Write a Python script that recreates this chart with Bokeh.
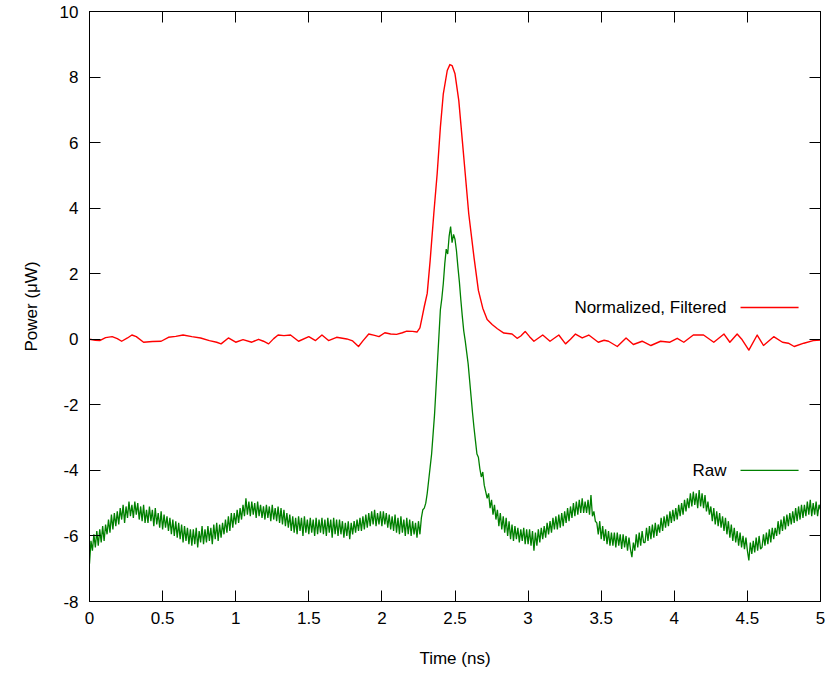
import numpy as np
from bokeh.plotting import figure
from bokeh.models import LinearAxis, Range1d, FixedTicker, Label, Arrow, ColumnDataSource
from bokeh.embed import file_html
from bokeh.resources import INLINE

# ---------------- data ----------------
x_ticks = [0, 0.5, 1, 1.5, 2, 2.5, 3, 3.5, 4, 4.5, 5]
y_ticks = [-8, -6, -4, -2, 0, 2, 4, 6, 8, 10]
y_tick_labels = ["-8", "-6", "-4", "-2", "0", "2", "4", "6", "8", "10"]

filtered_name = "Normalized, Filtered"
raw_name = "Raw"

# Normalized, filtered trace (time in ns, power in uW)
filtered_time = [
    0.00, 0.04, 0.07, 0.11, 0.155, 0.19, 0.22, 0.26, 0.29, 0.32, 0.37, 0.43, 0.49, 0.54,
    0.59, 0.64, 0.70, 0.76, 0.82, 0.87, 0.90, 0.95, 1.00, 1.05, 1.11, 1.156, 1.19, 1.225,
    1.26, 1.29, 1.33, 1.375, 1.43, 1.50, 1.546, 1.59, 1.635, 1.69, 1.76, 1.80, 1.84, 1.87,
    1.91, 1.95, 1.98, 2.02, 2.06, 2.10, 2.14, 2.17, 2.21, 2.24, 2.26, 2.275, 2.29, 2.31,
    2.33, 2.355, 2.378, 2.40, 2.42, 2.447, 2.465, 2.48, 2.50, 2.526, 2.55, 2.57, 2.594,
    2.63, 2.66, 2.69, 2.72, 2.754, 2.79, 2.834, 2.89, 2.925, 2.95, 2.98, 3.01, 3.04, 3.10,
    3.15, 3.21, 3.256, 3.29, 3.324, 3.37, 3.415, 3.48, 3.52, 3.55, 3.61, 3.67, 3.72, 3.78,
    3.84, 3.906, 3.97, 4.02, 4.065, 4.13, 4.20, 4.27, 4.34, 4.38, 4.43, 4.46, 4.51, 4.567,
    4.61, 4.68, 4.74, 4.78, 4.82, 4.886, 4.95, 5.00,
]
filtered_power = [
    0.00, -0.03, -0.04, 0.05, 0.08, 0.02, -0.06, 0.04, 0.13, 0.08, -0.09, -0.07, -0.06, 0.06,
    0.09, 0.13, 0.08, 0.04, -0.04, -0.09, -0.14, 0.04, -0.09, -0.01, -0.09, 0.00, -0.06, -0.14,
    0.02, 0.13, 0.11, 0.13, -0.06, 0.08, -0.04, 0.13, -0.04, 0.06, 0.01, -0.05, -0.22, -0.05,
    0.16, 0.12, 0.08, 0.20, 0.16, 0.15, 0.20, 0.25, 0.24, 0.22, 0.35, 0.67, 1.00, 1.40,
    2.40, 3.83, 5.05, 6.47, 7.49, 8.20, 8.38, 8.35, 8.10, 7.28, 6.07, 5.05, 3.83,
    2.50, 1.49, 0.95, 0.60, 0.45, 0.32, 0.19, 0.16, 0.03, 0.10, 0.24, 0.08, -0.06, 0.13,
    -0.06, 0.13, -0.14, 0.00, 0.16, 0.04, 0.13, -0.09, -0.03, -0.06, -0.22, 0.04, -0.16, -0.06,
    -0.19, -0.06, -0.09, 0.03, -0.09, 0.13, 0.13, -0.09, 0.16, -0.09, 0.16, 0.01, -0.33, 0.13,
    -0.19, 0.08, -0.09, -0.12, -0.22, -0.12, -0.04, -0.02,
]

# Raw trace, sampled every 0.01 ns from 0 to 5 ns (one row = 0.1 ns)
raw_step_ns = 0.01
raw_power = [
    -6.85, -6.15, -6.45, -5.95, -6.35, -5.85, -6.30, -5.80, -6.20, -5.70,
    -6.15, -5.65, -5.95, -5.50, -5.90, -5.35, -5.80, -5.30, -5.70, -5.25,
    -5.65, -5.15, -5.50, -5.05, -5.60, -5.10, -5.45, -4.95, -5.40, -5.05,
    -5.45, -4.95, -5.35, -5.00, -5.50, -5.10, -5.55, -5.05, -5.60, -5.20,
    -5.60, -5.10, -5.55, -5.20, -5.70, -5.15, -5.65, -5.30, -5.75, -5.25,
    -5.80, -5.35, -5.75, -5.40, -5.85, -5.45, -5.95, -5.50, -6.00, -5.55,
    -6.05, -5.60, -6.10, -5.65, -6.20, -5.70, -6.15, -5.75, -6.25, -5.80,
    -6.30, -5.80, -6.25, -5.75, -6.35, -5.85, -6.20, -5.70, -6.25, -5.80,
    -6.20, -5.70, -6.15, -5.75, -6.25, -5.65, -6.10, -5.60, -6.15, -5.65,
    -6.05, -5.60, -5.95, -5.50, -5.90, -5.40, -5.85, -5.30, -5.75, -5.30,
    -5.65, -5.20, -5.60, -5.15, -5.50, -5.05, -5.40, -4.85, -5.35, -4.95,
    -5.40, -4.95, -5.35, -5.00, -5.45, -4.95, -5.40, -5.05, -5.45, -5.10,
    -5.50, -5.05, -5.45, -5.10, -5.55, -5.05, -5.50, -5.15, -5.55, -5.10,
    -5.60, -5.15, -5.65, -5.20, -5.70, -5.30, -5.75, -5.35, -5.85, -5.40,
    -5.90, -5.45, -5.95, -5.40, -5.85, -5.45, -6.00, -5.40, -5.90, -5.50,
    -5.95, -5.45, -5.90, -5.50, -6.00, -5.45, -5.95, -5.50, -5.90, -5.45,
    -5.95, -5.50, -6.00, -5.45, -5.90, -5.50, -6.05, -5.45, -5.95, -5.50,
    -6.00, -5.50, -5.95, -5.55, -6.05, -5.60, -6.00, -5.55, -6.10, -5.60,
    -5.95, -5.55, -5.90, -5.50, -5.85, -5.45, -5.85, -5.40, -5.80, -5.35,
    -5.75, -5.30, -5.70, -5.25, -5.65, -5.20, -5.70, -5.30, -5.65, -5.25,
    -5.70, -5.25, -5.65, -5.30, -5.75, -5.35, -5.80, -5.40, -5.85, -5.35,
    -5.90, -5.45, -5.95, -5.40, -5.90, -5.50, -6.00, -5.45, -5.95, -5.50,
    -6.00, -5.55, -5.95, -5.60, -6.05, -5.55, -5.95, -5.45, -5.20, -5.15,
    -5.00, -4.70, -4.30, -3.90, -3.50, -2.90, -2.30, -1.50, -0.70, 0.10,
    0.90, 1.25, 1.70, 2.30, 2.75, 2.60, 3.15, 3.44, 2.95, 3.20,
    3.05, 2.70, 2.20, 1.75, 1.20, 0.70, 0.25, -0.05, -0.40, -0.75,
    -1.25, -1.75, -2.25, -2.70, -3.10, -3.50, -3.60, -3.95, -4.20, -4.05,
    -4.45, -4.65, -4.85, -4.70, -5.15, -4.90, -5.35, -5.05, -5.50, -5.20,
    -5.70, -5.30, -5.80, -5.40, -5.90, -5.45, -6.00, -5.55, -6.10, -5.65,
    -6.15, -5.70, -6.10, -5.75, -6.20, -5.80, -6.15, -5.75, -6.25, -5.80,
    -6.25, -5.80, -6.30, -5.85, -6.45, -5.90, -6.30, -5.80, -6.20, -5.75,
    -6.10, -5.70, -6.05, -5.60, -5.95, -5.55, -5.90, -5.45, -5.80, -5.40,
    -5.80, -5.35, -5.75, -5.30, -5.70, -5.25, -5.60, -5.15, -5.55, -5.10,
    -5.45, -5.00, -5.40, -4.95, -5.35, -4.90, -5.30, -4.85, -5.30, -4.95,
    -5.30, -4.90, -5.35, -4.75, -5.40, -5.25, -5.55, -5.60, -5.95, -5.55,
    -6.10, -5.70, -6.15, -5.80, -6.25, -5.85, -6.30, -5.90, -6.30, -5.90,
    -6.35, -5.90, -6.30, -5.95, -6.40, -5.95, -6.35, -6.00, -6.45, -6.05,
    -6.40, -6.65, -6.20, -6.45, -5.95, -6.35, -5.90, -6.30, -5.85, -6.20,
    -6.20, -5.75, -6.15, -5.70, -6.10, -5.65, -6.05, -5.60, -6.00, -5.65,
    -5.90, -5.45, -5.85, -5.40, -5.75, -5.35, -5.70, -5.25, -5.60, -5.20,
    -5.55, -5.15, -5.50, -5.05, -5.40, -5.00, -5.35, -4.90, -5.25, -4.85,
    -5.15, -4.70, -5.10, -4.65, -5.05, -4.70, -5.15, -4.60, -5.10, -4.70,
    -5.15, -4.75, -5.25, -4.95, -5.35, -5.10, -5.55, -5.15, -5.65, -5.25,
    -5.70, -5.30, -5.75, -5.40, -5.85, -5.45, -5.95, -5.55, -6.05, -5.65,
    -6.15, -5.75, -6.20, -5.85, -6.30, -5.90, -6.35, -6.00, -6.40, -6.05,
    -6.45, -6.75, -6.20, -6.55, -6.15, -6.50, -6.05, -6.45, -6.00, -6.40,
    -6.35, -5.95, -6.30, -5.90, -6.25, -5.80, -6.20, -5.75, -6.10, -5.75,
    -6.00, -5.55, -5.95, -5.50, -5.85, -5.40, -5.80, -5.35, -5.70, -5.30,
    -5.65, -5.25, -5.60, -5.15, -5.55, -5.10, -5.50, -5.05, -5.45, -5.05,
    -5.40, -4.95, -5.35, -4.90, -5.40, -5.00, -5.35, -4.95, -5.40, -5.05,
    -5.20,
]
raw_time = np.arange(len(raw_power)) * raw_step_ns

# ---------------- styling constants ----------------
FONT = "Liberation Sans"
FS = "17px"
RED = "#ff0000"
GREEN = "#008000"

p = figure(
    width=827, height=674,
    x_range=Range1d(0, 5), y_range=Range1d(-8, 10),
    output_backend="svg", toolbar_location=None,
    min_border_left=89, min_border_right=7, min_border_top=11, min_border_bottom=73,
    x_axis_label="Time (ns)", y_axis_label="Power (μW)",
)
p.background_fill_color = "white"
p.border_fill_color = "white"
p.grid.visible = False
p.outline_line_color = "black"
p.outline_line_width = 1
p.outline_line_alpha = 1

def style_axis(ax, ticks, show_labels=True):
    ax.ticker = FixedTicker(ticks=ticks)
    ax.major_tick_in = 11
    ax.major_tick_out = 0
    ax.minor_tick_in = 0
    ax.minor_tick_out = 0
    ax.major_tick_line_color = "black"
    ax.axis_line_color = "black"
    ax.major_label_text_font = FONT
    ax.major_label_text_color = "black"
    ax.axis_label_text_font = FONT
    ax.axis_label_text_font_size = FS
    ax.axis_label_text_font_style = "normal"
    ax.axis_label_text_color = "black"
    if show_labels:
        ax.major_label_text_font_size = FS
    else:
        ax.major_label_text_font_size = "0px"
        ax.major_label_standoff = 0
        ax.major_label_overrides = {t: "" for t in ticks}

style_axis(p.xaxis[0], x_ticks)
style_axis(p.yaxis[0], y_ticks)
p.yaxis[0].major_label_overrides = dict(zip(y_ticks, y_tick_labels))
p.xaxis[0].major_label_standoff = 10
p.xaxis[0].axis_label_standoff = 22
p.yaxis[0].major_label_standoff = 11
p.yaxis[0].axis_label_standoff = 16

top_axis = LinearAxis()
style_axis(top_axis, x_ticks, show_labels=False)
p.add_layout(top_axis, "above")
right_axis = LinearAxis()
style_axis(right_axis, y_ticks, show_labels=False)
p.add_layout(right_axis, "right")

src_f = ColumnDataSource(dict(t=filtered_time, v=filtered_power))
src_r = ColumnDataSource(dict(t=raw_time, v=raw_power))
p.line("t", "v", source=src_f, line_color=RED, line_width=1.4, line_join="round")
p.line("t", "v", source=src_r, line_color=GREEN, line_width=1.3)

# key entries (text to the left of the sample line, gnuplot style)
key_text_x = 4.357
key_line_x0, key_line_x1 = 4.453, 4.85
for name, color, ky in [(filtered_name, RED, 0.97), (raw_name, GREEN, -4.0)]:
    p.add_layout(Label(x=key_text_x, y=ky, text=name, text_align="right",
                       text_baseline="middle", text_font=FONT, text_font_size=FS,
                       text_color="black"))
    p.add_layout(Arrow(x_start=key_line_x0, y_start=ky, x_end=key_line_x1, y_end=ky,
                       end=None, line_color=color, line_width=1.4))

open("out.html", "w").write(file_html(p, INLINE))
